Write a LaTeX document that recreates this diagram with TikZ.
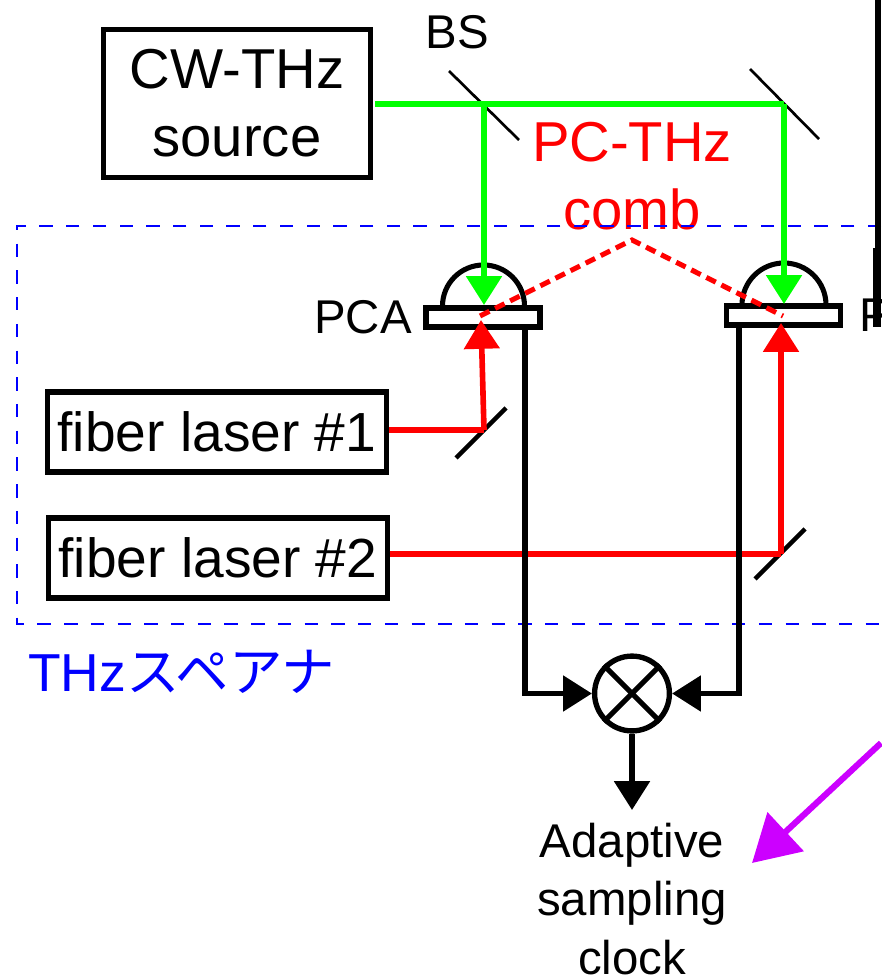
\documentclass[tikz,border=0pt]{standalone}
\usepackage{fontspec}
\setmainfont{Liberation Sans}
\newfontfamily\cjk{Noto Sans CJK JP}
\usetikzlibrary{arrows.meta}
\definecolor{pumpviolet}{RGB}{204,0,255}
\tikzset{
    box/.style={draw, line width=3.6pt, inner sep=0pt, align=center},
    lasertext/.style={font=\fontsize{39.2}{39.2}\selectfont},
    bigtext/.style={font=\fontsize{40}{48.5}\selectfont, align=center},
    smalltext/.style={font=\fontsize{33.7}{41.5}\selectfont, align=center, inner sep=0pt},
    beam/.style={line width=4pt, -{Triangle[length=0.72cm, width=0.87cm]}},
    antenna/.style={draw, fill=white, line width=3.6pt, minimum width=2.85cm, minimum height=0.475cm, inner sep=0pt},
}
\begin{document}
\begin{tikzpicture}[x=0.025cm, y=-0.025cm]

    % Page
    \useasboundingbox (0, 0) rectangle (881, 977);

    % Comb label, under the frame
    \node[red, bigtext, inner sep=0pt] (comb) at (632, 176) {PC-THz\\comb};

    % Spectrum analyser frame
    \draw[blue, line width=2pt, dash pattern=on 9.5pt off 9.5pt] (881, 226) -- (17, 226) -- (17, 624) -- (881, 624);
    \node[blue, font=\fontsize{38}{38}\selectfont, anchor=west, inner sep=0pt] (spa) at (28, 672) {THz{\cjk スペアナ}};

    % Sources
    \node[box, bigtext, minimum width=6.65cm, minimum height=3.68cm] (cw) at (237, 103.5) {CW-THz\\source};
    \node[box, lasertext, minimum width=8.45cm, minimum height=2cm] (fl1) at (217, 432) {fiber laser \#1};
    \node[box, lasertext, minimum width=8.45cm, minimum height=2cm] (fl2) at (218, 558) {fiber laser \#2};

    % Mirrors
    \coordinate (bs) at (484, 104);
    \coordinate (m1) at (784, 104);
    \coordinate (m2) at (484, 430);
    \coordinate (m3) at (781, 554);
    \draw[line width=1.9pt] (449, 71) -- (519, 140);
    \draw[line width=1.9pt] (750, 69) -- (819, 139);
    \draw[line width=3.2pt] (456, 458) -- (506, 408);
    \draw[line width=3.2pt] (755, 579) -- (805, 529);

    % Photoconductive antennas
    \draw[line width=3.6pt] (442.5, 306) arc (180:360:41);
    \draw[line width=3.6pt] (742, 305) arc (180:360:42);
    \node[antenna] (ant1) at (483, 317.5) {};
    \node[antenna] (ant2) at (783.5, 315.5) {};

    % Green beams
    \coordinate (cwout) at (375, 104);
    \coordinate (gtip1) at (484, 305);
    \coordinate (gtip2) at (784, 304);
    \draw[green, line width=4.2pt] (cwout) -- (bs) -- (m1);
    \draw[green, beam] (bs) -- (gtip1);
    \draw[green, beam] (m1) -- (gtip2);

    % Red beams
    \coordinate (rtip1) at (481, 320);
    \coordinate (rtip2) at (781, 323);
    \draw[red, line width=3.6pt] (fl1.east |- m2) -- (m2);
    \draw[red, beam] (m2) -- (rtip1);
    \draw[red, line width=3.6pt] (fl2.east |- m3) -- (m3);
    \draw[red, beam] (m3) -- (rtip2);

    % Comb
    \coordinate (apex) at (632, 240);
    \coordinate (dash1) at (480, 316);
    \coordinate (dash2) at (783, 316);
    \draw[red, line width=3.6pt, dash pattern=on 7.5pt off 4.5pt] (dash1) -- (apex) -- (dash2);

    % Mixer
    \node[draw, circle, line width=3.8pt, minimum size=1.87cm, inner sep=0pt] (mix) at (632, 693.5) {};
    \draw[line width=3.6pt] (mix.north west) -- (mix.south east);
    \draw[line width=3.6pt] (mix.north east) -- (mix.south west);
    \coordinate (lead1) at (525, 329);
    \coordinate (lead2) at (739, 327);
    \coordinate (out) at (632, 810);
    \draw[beam] (lead1) |- (mix.west);
    \draw[beam] (lead2) |- (mix.east);
    \draw[beam] (mix.south) -- (out);

    % Pump arrow
    \coordinate (pump) at (881, 743);
    \coordinate (tip) at (752, 863);
    \draw[pumpviolet, line width=4.4pt, -{Triangle[length=1.15cm, width=1.3cm]}] (pump) -- (tip);

    % Labels
    \node[smalltext] (bslabel) at (457, 32) {BS};
    \node[smalltext, anchor=east] (pcalabel) at (412, 317) {PCA};
    \node[smalltext, anchor=west] (pcblabel) at (859, 315) {P};
    \node[smalltext] (clock) at (632, 899) {Adaptive\\sampling\\clock};

    % Black bars at the right
    \fill (874.5, 0) rectangle (881, 248);
    \fill (873, 248) rectangle (881, 327);

\end{tikzpicture}
\end{document}
